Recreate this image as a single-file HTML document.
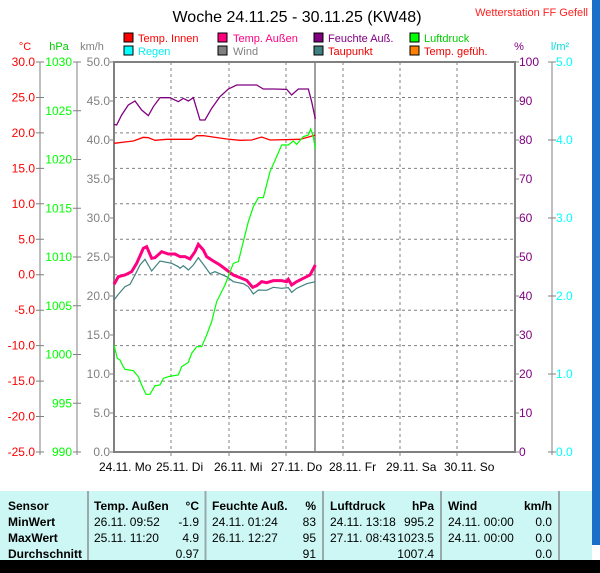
<!DOCTYPE html>
<html><head><meta charset="utf-8"><style>
html,body{margin:0;padding:0;background:#fff;width:600px;height:573px;overflow:hidden}
svg{display:block;font-family:"Liberation Sans",sans-serif}
</style></head><body>
<svg width="600" height="573" viewBox="0 0 600 573" xmlns="http://www.w3.org/2000/svg">
<rect x="0" y="0" width="600" height="573" fill="#fff"/>
<rect x="592" y="0" width="8" height="545" fill="#1a6fc8"/>
<rect x="0" y="560" width="600" height="13" fill="#000"/>
<text x="297" y="22" font-size="16" text-anchor="middle" fill="#000">Woche 24.11.25 - 30.11.25 (KW48)</text>
<text x="588" y="16" font-size="11" text-anchor="end" fill="#ff2020">Wetterstation FF Gefell</text>
<g font-size="11">
<rect x="124" y="33" width="9" height="9" fill="#f00" stroke="#000"/><text x="138" y="42" fill="#f00">Temp. Innen</text>
<rect x="218" y="33" width="9" height="9" fill="#ff0080" stroke="#000"/><text x="233" y="42" fill="#ff0080">Temp. Außen</text>
<rect x="314" y="33" width="9" height="9" fill="#800080" stroke="#000"/><text x="328" y="42" fill="#800080">Feuchte Auß.</text>
<rect x="410" y="33" width="9" height="9" fill="#0f0" stroke="#000"/><text x="424" y="42" fill="#0c0">Luftdruck</text>
<rect x="124" y="46" width="9" height="9" fill="#0ff" stroke="#000"/><text x="138" y="55" fill="#0ee">Regen</text>
<rect x="218" y="46" width="9" height="9" fill="#808080" stroke="#000"/><text x="233" y="55" fill="#808080">Wind</text>
<rect x="314" y="46" width="9" height="9" fill="#408080" stroke="#000"/><text x="328" y="55" fill="#e00">Taupunkt</text>
<rect x="410" y="46" width="9" height="9" fill="#ff8000" stroke="#000"/><text x="424" y="55" fill="#e00">Temp. gefüh.</text>
</g>
<g font-size="11">
<text x="25" y="50" fill="#f00" text-anchor="middle">°C</text>
<text x="59" y="50" fill="#0c0" text-anchor="middle">hPa</text>
<text x="92" y="50" fill="#808080" text-anchor="middle">km/h</text>
<text x="519" y="50" fill="#800080" text-anchor="middle">%</text>
<text x="560" y="50" fill="#0dd" text-anchor="middle">l/m²</text>
</g>
<g stroke="#808080" stroke-dasharray="3,3" stroke-width="1">
<line x1="114" x2="515" y1="97.5" y2="97.5"/><line x1="114" x2="515" y1="132.9" y2="132.9"/>
<line x1="114" x2="515" y1="168.4" y2="168.4"/><line x1="114" x2="515" y1="203.8" y2="203.8"/>
<line x1="114" x2="515" y1="239.3" y2="239.3"/><line x1="114" x2="515" y1="274.7" y2="274.7"/>
<line x1="114" x2="515" y1="310.2" y2="310.2"/><line x1="114" x2="515" y1="345.6" y2="345.6"/>
<line x1="114" x2="515" y1="381.1" y2="381.1"/><line x1="114" x2="515" y1="416.5" y2="416.5"/>
<line x1="171" x2="171" y1="62" y2="452"/><line x1="229" x2="229" y1="62" y2="452"/>
<line x1="286" x2="286" y1="62" y2="452"/><line x1="343" x2="343" y1="62" y2="452"/>
<line x1="400" x2="400" y1="62" y2="452"/><line x1="457" x2="457" y1="62" y2="452"/>
</g>
<line x1="315" x2="315" y1="62" y2="452" stroke="#808080" stroke-width="1.5"/>
<g stroke="#808080" fill="none">
<rect x="114" y="62" width="401" height="390" stroke-width="2"/>
<line x1="40" x2="40" y1="62" y2="455"/><line x1="77" x2="77" y1="62" y2="455"/><line x1="552" x2="552" y1="62" y2="455"/>
</g>
<g stroke="#808080">
<path d="M36 62h8M36 97.5h8M36 132.9h8M36 168.4h8M36 203.8h8M36 239.3h8M36 274.7h8M36 310.2h8M36 345.6h8M36 381.1h8M36 416.5h8M36 452h8"/>
<path d="M73 62h8M73 110.75h8M73 159.5h8M73 208.25h8M73 257h8M73 305.75h8M73 354.5h8M73 403.25h8M73 452h8"/>
<path d="M110 62h4M110 101h4M110 140h4M110 179h4M110 218h4M110 257h4M110 296h4M110 335h4M110 374h4M110 413h4M110 452h4"/>
<path d="M515 62h4M515 101h4M515 140h4M515 179h4M515 218h4M515 257h4M515 296h4M515 335h4M515 374h4M515 413h4M515 452h4"/>
<path d="M548 62h8M548 140h8M548 218h8M548 296h8M548 374h8M548 452h8"/>
<path d="M171 452v4M229 452v4M286 452v4M343 452v4M400 452v4M457 452v4"/>
</g>
<g font-size="12" text-anchor="end" fill="#f00">
<text x="35" y="66">30.0</text><text x="35" y="101.5">25.0</text><text x="35" y="136.9">20.0</text><text x="35" y="172.4">15.0</text><text x="35" y="207.8">10.0</text><text x="35" y="243.3">5.0</text><text x="35" y="278.7">0.0</text><text x="35" y="314.2">-5.0</text><text x="35" y="349.6">-10.0</text><text x="35" y="385.1">-15.0</text><text x="35" y="420.5">-20.0</text><text x="35" y="456">-25.0</text>
</g>
<g font-size="12" text-anchor="end" fill="#0f0">
<text x="72" y="66">1030</text><text x="72" y="114.75">1025</text><text x="72" y="163.5">1020</text><text x="72" y="212.25">1015</text><text x="72" y="261">1010</text><text x="72" y="309.75">1005</text><text x="72" y="358.5">1000</text><text x="72" y="407.25">995</text><text x="72" y="456">990</text>
</g>
<g font-size="12" text-anchor="end" fill="#808080">
<text x="110" y="66">50.0</text><text x="110" y="105">45.0</text><text x="110" y="144">40.0</text><text x="110" y="183">35.0</text><text x="110" y="222">30.0</text><text x="110" y="261">25.0</text><text x="110" y="300">20.0</text><text x="110" y="339">15.0</text><text x="110" y="378">10.0</text><text x="110" y="417">5.0</text><text x="110" y="456">0.0</text>
</g>
<g font-size="12" fill="#800080">
<text x="519" y="66">100</text><text x="519" y="105">90</text><text x="519" y="144">80</text><text x="519" y="183">70</text><text x="519" y="222">60</text><text x="519" y="261">50</text><text x="519" y="300">40</text><text x="519" y="339">30</text><text x="519" y="378">20</text><text x="519" y="417">10</text><text x="519" y="456">0</text>
</g>
<g font-size="12" fill="#0ff">
<text x="556" y="66">5.0</text><text x="556" y="144">4.0</text><text x="556" y="222">3.0</text><text x="556" y="300">2.0</text><text x="556" y="378">1.0</text><text x="556" y="456">0.0</text>
</g>
<g font-size="12" fill="#000">
<text x="99" y="471">24.11. Mo</text><text x="156" y="471">25.11. Di</text><text x="214" y="471">26.11. Mi</text><text x="271" y="471">27.11. Do</text><text x="329" y="471">28.11. Fr</text><text x="386" y="471">29.11. Sa</text><text x="444" y="471">30.11. So</text>
</g>
<g transform="translate(100,55) scale(0.33333)" fill="none">
<polyline vector-effect="non-scaling-stroke" stroke="#800080" stroke-width="1.3" points="42,208 50,210 65,180 85,150 105,138 125,165 145,182 160,155 180,128 210,128 235,140 250,130 265,138 280,128 300,195 315,195 335,160 360,125 385,102 410,90 470,90 490,102 520,102 560,103 575,120 595,102 625,102 635,140 646,192"/>
<polyline vector-effect="non-scaling-stroke" stroke="#f00" stroke-width="1.3" points="42,265 100,258 130,247 145,248 165,256 200,253 275,253 290,242 310,242 380,252 420,256 455,255 485,246 510,255 600,253 630,245 646,240"/>
<polyline vector-effect="non-scaling-stroke" stroke="#408080" stroke-width="1.2" points="42,735 55,718 75,695 90,688 105,660 120,630 135,613 155,648 180,618 215,625 235,635 240,640 250,632 265,645 280,630 295,608 315,635 330,656 345,650 380,665 400,680 430,686 445,695 460,717 475,705 500,706 520,697 545,700 565,698 575,712 590,700 620,686 646,680"/>
<polyline vector-effect="non-scaling-stroke" stroke="#ff0080" stroke-width="3" points="42,688 55,665 75,660 95,650 110,625 130,580 140,575 155,610 165,608 185,590 205,597 225,597 240,605 255,605 270,612 285,590 295,568 310,585 320,605 340,618 360,630 380,645 400,660 420,668 440,676 458,697 470,692 485,680 500,683 520,677 545,677 560,680 565,673 575,690 590,680 610,670 630,660 646,630"/>
<polyline vector-effect="non-scaling-stroke" stroke="#0f0" stroke-width="1.2" points="42,870 52,910 60,915 68,932 75,943 100,947 115,965 125,990 138,1018 150,1018 165,992 180,990 190,970 205,965 215,963 235,960 245,935 265,922 275,895 290,875 305,875 320,840 335,800 350,740 375,690 400,625 415,620 430,560 445,500 460,455 475,428 490,428 510,350 530,305 545,270 565,270 580,258 590,268 610,245 625,240 632,222 640,245 646,282"/>
</g>
<rect x="0" y="491" width="592" height="69" fill="#ccf7f4"/>
<g stroke="#9aa" stroke-width="2">
<line x1="88" x2="88" y1="491" y2="560"/><line x1="205.5" x2="205.5" y1="491" y2="560"/><line x1="323" x2="323" y1="491" y2="560"/><line x1="441" x2="441" y1="491" y2="560"/><line x1="559" x2="559" y1="491" y2="560"/>
</g>
<g font-size="12" fill="#000">
<g font-weight="bold">
<text x="8" y="510">Sensor</text><text x="8" y="526">MinWert</text><text x="8" y="542">MaxWert</text><text x="8" y="558">Durchschnitt</text>
<text x="94" y="510">Temp. Außen</text><text x="199" y="510" text-anchor="end">°C</text>
<text x="212" y="510">Feuchte Auß.</text><text x="316" y="510" text-anchor="end">%</text>
<text x="330" y="510">Luftdruck</text><text x="434" y="510" text-anchor="end">hPa</text>
<text x="448" y="510">Wind</text><text x="552" y="510" text-anchor="end">km/h</text>
</g>
<text x="94" y="526">26.11.  09:52</text><text x="199" y="526" text-anchor="end">-1.9</text>
<text x="94" y="542">25.11.  11:20</text><text x="199" y="542" text-anchor="end">4.9</text>
<text x="199" y="558" text-anchor="end">0.97</text>
<text x="212" y="526">24.11.  01:24</text><text x="316" y="526" text-anchor="end">83</text>
<text x="212" y="542">26.11.  12:27</text><text x="316" y="542" text-anchor="end">95</text>
<text x="316" y="558" text-anchor="end">91</text>
<text x="330" y="526">24.11.  13:18</text><text x="434" y="526" text-anchor="end">995.2</text>
<text x="330" y="542">27.11.  08:43</text><text x="434" y="542" text-anchor="end">1023.5</text>
<text x="434" y="558" text-anchor="end">1007.4</text>
<text x="448" y="526">24.11.  00:00</text><text x="552" y="526" text-anchor="end">0.0</text>
<text x="448" y="542">24.11.  00:00</text><text x="552" y="542" text-anchor="end">0.0</text>
<text x="552" y="558" text-anchor="end">0.0</text>
</g>
</svg>
</body></html>
